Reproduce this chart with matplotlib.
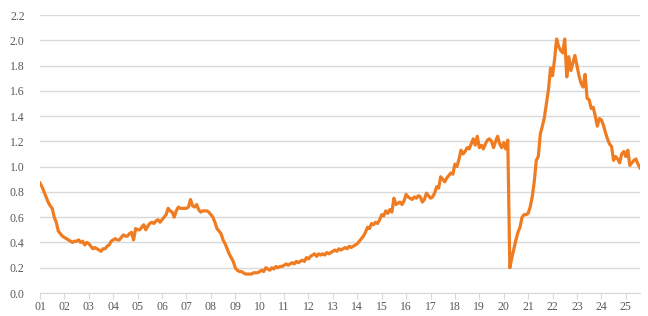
import matplotlib
matplotlib.use("Agg")
import matplotlib.pyplot as plt
import numpy as np

# monthly values, Jan 2001 .. Aug 2025
y01 = [0.87, 0.84, 0.80, 0.76, 0.72, 0.69, 0.67, 0.60, 0.56, 0.49, 0.47, 0.45]
y02 = [0.44, 0.43, 0.42, 0.41, 0.40, 0.41, 0.41, 0.42, 0.40, 0.41, 0.38, 0.40]
y03 = [0.39, 0.37, 0.35, 0.36, 0.35, 0.34, 0.33, 0.35, 0.35, 0.37, 0.38, 0.41]
y04 = [0.42, 0.43, 0.42, 0.42, 0.44, 0.46, 0.45, 0.45, 0.47, 0.48, 0.42, 0.51]
y05 = [0.50, 0.50, 0.52, 0.54, 0.50, 0.53, 0.55, 0.56, 0.55, 0.57, 0.58, 0.56]
y06 = [0.58, 0.60, 0.62, 0.67, 0.65, 0.64, 0.60, 0.65, 0.68, 0.67, 0.67, 0.67]
y07 = [0.67, 0.68, 0.74, 0.69, 0.68, 0.70, 0.66, 0.64, 0.65, 0.65, 0.65, 0.64]
y08 = [0.62, 0.60, 0.56, 0.51, 0.49, 0.47, 0.42, 0.39, 0.35, 0.31, 0.28, 0.25]
y09 = [0.20, 0.18, 0.17, 0.17, 0.16, 0.15, 0.15, 0.15, 0.15, 0.16, 0.16, 0.16]
y10 = [0.17, 0.18, 0.17, 0.20, 0.19, 0.18, 0.20, 0.19, 0.21, 0.20, 0.21, 0.21]
y11 = [0.22, 0.23, 0.22, 0.23, 0.24, 0.23, 0.25, 0.24, 0.25, 0.26, 0.25, 0.28]
y12 = [0.27, 0.29, 0.30, 0.31, 0.29, 0.31, 0.30, 0.31, 0.30, 0.32, 0.31, 0.32]
y13 = [0.33, 0.34, 0.33, 0.35, 0.34, 0.35, 0.36, 0.35, 0.37, 0.36, 0.37, 0.38]
y14 = [0.39, 0.41, 0.43, 0.45, 0.48, 0.52, 0.51, 0.55, 0.54, 0.56, 0.55, 0.58]
y15 = [0.62, 0.61, 0.65, 0.63, 0.66, 0.64, 0.75, 0.70, 0.71, 0.72, 0.70, 0.73]
y16 = [0.78, 0.76, 0.75, 0.74, 0.76, 0.75, 0.77, 0.76, 0.72, 0.74, 0.79, 0.77]
y17 = [0.75, 0.76, 0.79, 0.84, 0.83, 0.92, 0.90, 0.88, 0.91, 0.93, 0.95, 0.94]
y18 = [1.02, 1.00, 1.06, 1.13, 1.10, 1.12, 1.15, 1.14, 1.18, 1.22, 1.17, 1.24]
y19 = [1.15, 1.17, 1.14, 1.18, 1.21, 1.22, 1.20, 1.15, 1.20, 1.24, 1.18, 1.15]
y20 = [1.19, 1.14, 1.21, 0.20, 0.28, 0.35, 0.42, 0.48, 0.52, 0.60, 0.62, 0.62]
y21 = [0.63, 0.68, 0.76, 0.88, 1.05, 1.08, 1.26, 1.32, 1.39, 1.50, 1.61, 1.78]
y22 = [1.72, 1.85, 2.01, 1.95, 1.92, 1.90, 2.01, 1.71, 1.87, 1.76, 1.82, 1.88]
y23 = [1.80, 1.72, 1.66, 1.63, 1.73, 1.54, 1.53, 1.46, 1.47, 1.40, 1.32, 1.38]
y24 = [1.37, 1.33, 1.27, 1.22, 1.18, 1.16, 1.05, 1.08, 1.06, 1.03, 1.10, 1.12]
y25 = [1.08, 1.13, 1.01, 1.03, 1.05, 1.06, 1.02, 0.99]

year_labels = ["%02d" % i for i in range(1, 26)]
y_ticks = [0.0, 0.2, 0.4, 0.6, 0.8, 1.0, 1.2, 1.4, 1.6, 1.8, 2.0, 2.2]

series = np.array(y01 + y02 + y03 + y04 + y05 + y06 + y07 + y08 + y09 + y10 + y11 + y12 + y13
                  + y14 + y15 + y16 + y17 + y18 + y19 + y20 + y21 + y22 + y23 + y24 + y25)
months = np.arange(len(series))

fig = plt.figure(figsize=(6.48, 3.16), dpi=100)
ax = fig.add_axes([40 / 648, 23 / 316, 600 / 648, 278 / 316])

ax.plot(months, series, color="#f07c22", lw=2.3, solid_joinstyle="round")

ax.set_ylim(0, 2.2)
ax.set_xlim(0, len(series) - 1)
ax.set_yticks(y_ticks)
ax.set_yticklabels(["%.1f" % t for t in y_ticks])
ax.set_xticks(np.arange(len(year_labels)) * 12)
ax.set_xticklabels(year_labels)

ax.grid(axis="y", color="#d9d9d9", lw=1)
ax.set_axisbelow(True)
for s in ["top", "right", "left"]:
    ax.spines[s].set_visible(False)
ax.spines["bottom"].set_color("#d9d9d9")
ax.tick_params(axis="y", length=0, pad=11, labelsize=8, labelcolor="#595959")
ax.tick_params(axis="x", length=4, color="#d9d9d9", pad=2, labelsize=8, labelcolor="#595959")
for lab in ax.get_xticklabels() + ax.get_yticklabels():
    lab.set_family("Liberation Serif")
    lab.set_fontsize(8.5)

fig.savefig("out.png", dpi=100)
